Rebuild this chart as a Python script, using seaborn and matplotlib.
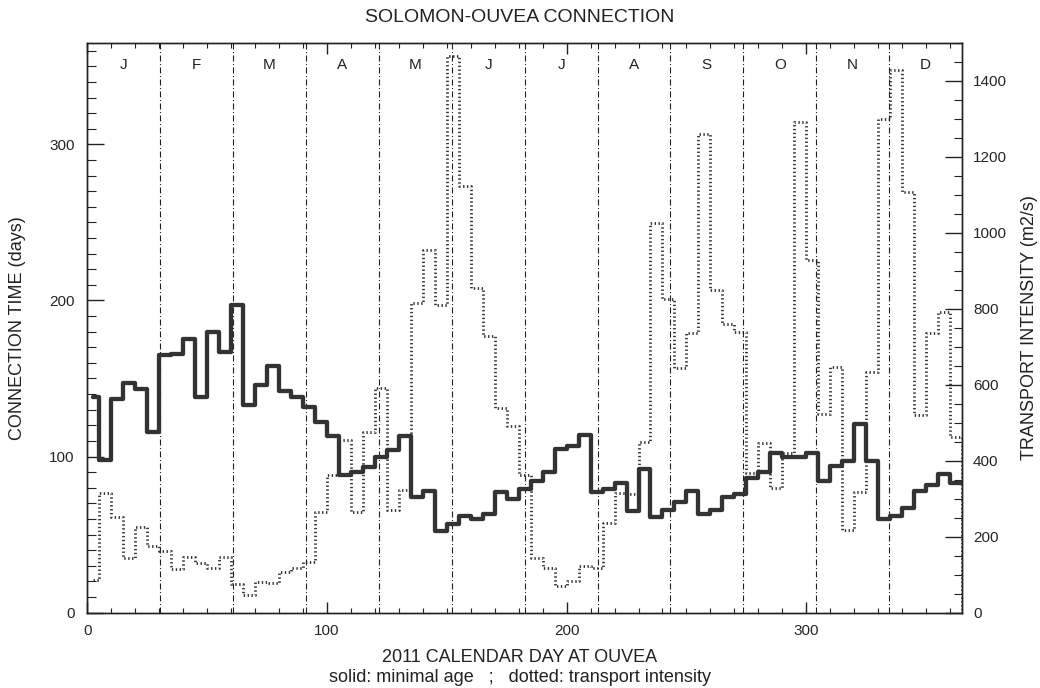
import numpy as np
import pandas as pd
import matplotlib
matplotlib.use("Agg")
import matplotlib.pyplot as plt
import seaborn as sns
from matplotlib.ticker import MultipleLocator

# pentad values (5-day bins, starting day 0)
min_age = [138, 98, 137, 147, 143, 116, 165, 166, 175, 138, 180, 167, 197,
           133, 146, 158, 142, 138, 132, 122, 113, 88, 90, 93, 100, 104, 113,
           74, 78, 52, 57, 62, 60, 63, 77, 73, 79, 84, 90, 105, 107, 114,
           77, 79, 83, 65, 92, 61, 66, 71, 78, 63, 66, 74, 76, 86, 90,
           102, 100, 100, 102, 84, 94, 97, 121, 97, 60, 62, 67, 78, 82, 89, 83]
transport = [85, 315, 252, 145, 226, 175, 163, 114, 147, 130, 117, 147, 75,
             46, 81, 79, 108, 117, 134, 265, 362, 454, 265, 476, 592, 270, 323,
             814, 956, 809, 1465, 1123, 856, 728, 538, 491, 362, 143, 117, 70,
             83, 123, 117, 235, 315, 312, 450, 1026, 827, 643, 735, 1261, 849,
             761, 739, 367, 446, 327, 419, 1292, 928, 524, 647, 217, 318, 634,
             1301, 1428, 1108, 520, 735, 792, 463]
months = ["J", "F", "M", "A", "M", "J", "J", "A", "S", "O", "N", "D"]

# bin edges: first bin drawn from its centre, last one closed at day 365
day = [2.5] + list(range(5, 365, 5)) + [365]
df = pd.DataFrame({"day": day,
                   "age": min_age + [min_age[-1]],
                   "ti": transport + [0]})

sns.set_theme(style="white")
plt.rcParams["font.family"] = ["Liberation Sans", "DejaVu Sans"]
plt.rcParams["text.color"] = "#222222"

fig = plt.figure(figsize=(10.4, 6.88), dpi=100)
ax = fig.add_axes([0.084, 0.1096, 0.841, 0.828])
ax2 = ax.twinx()

sns.lineplot(data=df, x="day", y="ti", ax=ax2, color="#333333", lw=2.0,
             linestyle=(0, (0.5, 0.9)), drawstyle="steps-post")
sns.lineplot(data=df, x="day", y="age", ax=ax, color="#333333", lw=3.1,
             drawstyle="steps-post", zorder=5)

ax.set_xlim(0, 365)
ax.set_ylim(0, 365)
ax2.set_ylim(0, 1500)
ax.set_zorder(ax2.get_zorder() + 1)
ax.patch.set_visible(False)

# month separators and initials
mlen = 365 / 12
for i in range(1, 12):
    ax.axvline(i * mlen, color="#222222", lw=0.8,
               linestyle=(0, (5.4, 2.25, 0.9, 2.25)), zorder=1)
for i, m in enumerate(months):
    ax.text((i + 0.5) * mlen, 0.961, m, transform=ax.get_xaxis_transform(),
            ha="center", va="center", fontsize=11)

ax.xaxis.set_major_locator(MultipleLocator(100))
ax.xaxis.set_minor_locator(MultipleLocator(10))
ax.yaxis.set_major_locator(MultipleLocator(100))
ax.yaxis.set_minor_locator(MultipleLocator(10))
ax2.yaxis.set_major_locator(MultipleLocator(200))
ax2.yaxis.set_minor_locator(MultipleLocator(50))

ax.tick_params(axis="x", which="both", direction="in", top=True, bottom=True,
               labelsize=11, pad=8, color="#222222")
ax.tick_params(axis="x", which="major", length=8, width=1)
ax.tick_params(axis="x", which="minor", length=3.5, width=0.8)
ax.tick_params(axis="y", which="both", direction="in", left=True, right=False,
               labelsize=11, pad=9, color="#222222")
ax.tick_params(axis="y", which="major", length=12, width=1)
ax.tick_params(axis="y", which="minor", length=6.5, width=0.8)
ax2.tick_params(axis="y", which="both", direction="in", right=True,
                labelsize=11, pad=8, color="#222222")
ax2.tick_params(axis="y", which="major", length=12, width=1)
ax2.tick_params(axis="y", which="minor", length=6, width=0.8)

ax.set_xlabel("")
ax.set_ylabel("")
ax2.set_ylabel("")
for a in (ax, ax2):
    for s in a.spines.values():
        s.set_color("#222222")
        s.set_linewidth(1.0)

fig.text(0.5, 1 - 18 / 688, "SOLOMON-OUVEA CONNECTION", ha="center",
         va="center", fontsize=14)
fig.text(0.5, 1 - 658 / 688, "2011 CALENDAR DAY AT OUVEA", ha="center",
         va="center", fontsize=13)
fig.text(0.5, 1 - 677 / 688,
         "solid: minimal age   ;   dotted: transport intensity",
         ha="center", va="center", fontsize=13)
fig.text(18 / 1040, 1 - 328 / 688, "CONNECTION TIME (days)", rotation=90,
         ha="center", va="center", fontsize=13)
fig.text(1030 / 1040, 1 - 328 / 688, "TRANSPORT INTENSITY (m2/s)", rotation=90,
         ha="center", va="center", fontsize=13)

fig.savefig("out.png", dpi=100)
